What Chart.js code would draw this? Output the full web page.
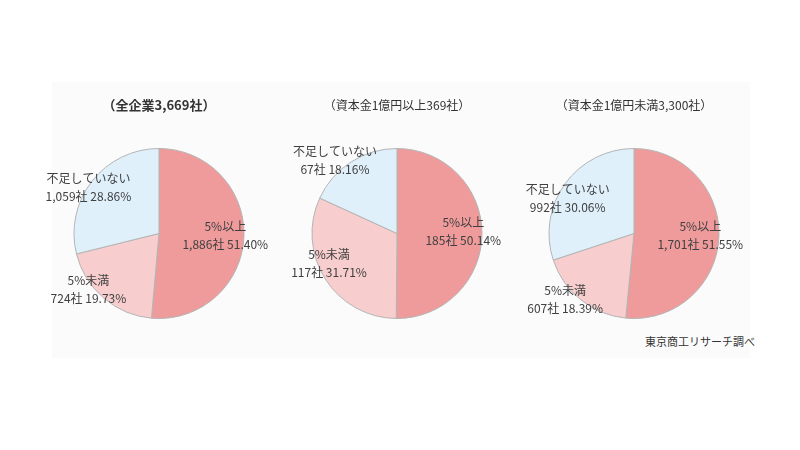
<!DOCTYPE html>
<html>
<head>
<meta charset="utf-8">
<script src="https://cdn.jsdelivr.net/npm/chart.js@4"></script>
<style>
  body { margin: 0; width: 800px; height: 450px; background: #fff; position: relative; overflow: hidden;
         font-family: "Noto Sans CJK JP", "Noto Sans", sans-serif; }
  #panel { position: absolute; left: 52px; top: 82px; width: 698px; height: 276px; background: #fbfbfb; }
  .pie { position: absolute; top: 94px; width: 230px; height: 225px; }
  #src { position: absolute; left: 645px; top: 333px; font-size: 11px; color: #333; }
</style>
</head>
<body>
<div id="panel"></div>
<div class="pie" style="left:44px"><canvas id="c1"></canvas></div>
<div class="pie" style="left:282px"><canvas id="c2"></canvas></div>
<div class="pie" style="left:519px"><canvas id="c3"></canvas></div>
<div id="src">東京商工リサーチ調べ</div>
<script>
var categories = ['5%以上', '5%未満', '不足していない'];
var titles = ['（全企業3,669社）', '（資本金1億円以上369社）', '（資本金1億円未満3,300社）'];

var countsAll = [1886, 724, 1059];
var pctsAll = [51.40, 19.73, 28.86];
var countsLarge = [185, 117, 67];
var pctsLarge = [50.14, 31.71, 18.16];
var countsSmall = [1701, 607, 992];
var pctsSmall = [51.55, 18.39, 30.06];

// where each label block sits, relative to pie centre, in radius units
var labelSpots = [
  [[0.78, 0.02], [-0.83, 0.66], [-0.83, -0.54]],
  [[0.78, -0.02], [-0.80, 0.35], [-0.73, -0.86]],
  [[0.78, 0.02], [-0.81, 0.77], [-0.78, -0.41]]
];

var colores = ['#f09b9b', '#f7cdcd', '#dff0fb'];

function fmt(n) {
  return n.toLocaleString('en-US');
}

var etiquetas = {
  id: 'etiquetas',
  afterDatasetsDraw: function(chart) {
    var ctx = chart.ctx;
    var spots = chart.options.plugins.etiquetas.spots;
    var pcts = chart.options.plugins.etiquetas.pcts;
    var ds = chart.data.datasets[0];
    var arcs = chart.getDatasetMeta(0).data;
    ctx.save();
    ctx.font = '12px "Noto Sans CJK JP", sans-serif';
    ctx.fillStyle = '#404040';
    ctx.textAlign = 'center';
    ctx.textBaseline = 'middle';
    arcs.forEach(function(arc, i) {
      var x = arc.x + spots[i][0] * arc.outerRadius;
      var y = arc.y + spots[i][1] * arc.outerRadius;
      ctx.fillText(chart.data.labels[i], x, y - 9);
      ctx.fillText(fmt(ds.data[i]) + '社 ' + pcts[i].toFixed(2) + '%', x, y + 9);
    });
    ctx.restore();
  }
};

function hacerPie(id, titulo, counts, pcts, spots, negrita) {
  return new Chart(document.getElementById(id), {
    type: 'pie',
    data: {
      labels: categories,
      datasets: [{
        data: counts,
        backgroundColor: colores,
        borderColor: '#b4b4b4',
        borderWidth: 1
      }]
    },
    options: {
      responsive: true,
      maintainAspectRatio: false,
      animation: false,
      layout: { padding: 0 },
      plugins: {
        legend: { display: false },
        tooltip: { enabled: false },
        title: {
          display: true,
          text: titulo,
          color: '#333',
          font: { family: '"Noto Sans CJK JP", sans-serif', size: negrita ? 13 : 12, weight: negrita ? 'bold' : 'normal', lineHeight: 14.4 / (negrita ? 13 : 12) },
          padding: { top: 4, bottom: 35.6 }
        },
        etiquetas: { spots: spots, pcts: pcts }
      }
    },
    plugins: [etiquetas]
  });
}

hacerPie('c1', titles[0], countsAll, pctsAll, labelSpots[0], true);
hacerPie('c2', titles[1], countsLarge, pctsLarge, labelSpots[1], false);
hacerPie('c3', titles[2], countsSmall, pctsSmall, labelSpots[2], false);
</script>
</body>
</html>
